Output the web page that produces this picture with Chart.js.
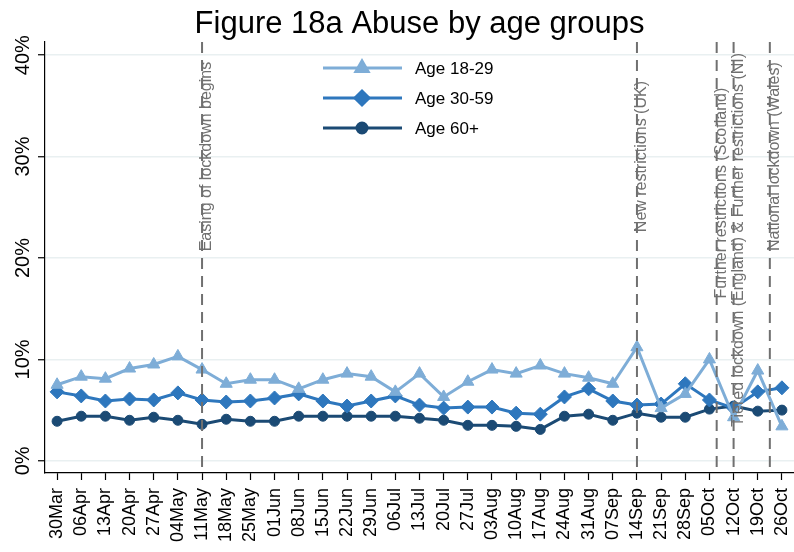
<!DOCTYPE html>
<html>
<head>
<meta charset="utf-8">
<script src="https://cdn.jsdelivr.net/npm/chart.js@4/dist/chart.umd.min.js"></script>
<style>
  body { margin: 0; background: #fff; }
  #wrap { width: 794px; height: 552px; }
</style>
</head>
<body>
<div id="wrap"><canvas id="myChart"></canvas></div>
<script>
const weeks = ['30Mar', '06Apr', '13Apr', '20Apr', '27Apr', '04May', '11May', '18May', '25May',
  '01Jun', '08Jun', '15Jun', '22Jun', '29Jun', '06Jul', '13Jul', '20Jul', '27Jul', '03Aug',
  '10Aug', '17Aug', '24Aug', '31Aug', '07Sep', '14Sep', '21Sep', '28Sep', '05Oct', '12Oct',
  '19Oct', '26Oct'];

const age18to29 = [7.5, 8.3, 8.1, 9.1, 9.5, 10.3, 9.0, 7.6, 8.0, 8.0, 7.1, 8.0, 8.6, 8.3, 6.8,
  8.6, 6.3, 7.8, 9.0, 8.6, 9.4, 8.6, 8.2, 7.6, 11.2, 5.2, 6.6, 10.0, 4.3, 8.9, 3.4];
const age30to59 = [6.8, 6.4, 5.9, 6.1, 6.0, 6.7, 6.0, 5.8, 5.9, 6.2, 6.6, 5.9, 5.4, 5.9, 6.4,
  5.5, 5.2, 5.3, 5.3, 4.7, 4.6, 6.3, 7.1, 5.9, 5.5, 5.6, 7.6, 6.0, 5.2, 6.8, 7.2];
const age60plus = [3.9, 4.4, 4.4, 4.0, 4.3, 4.0, 3.6, 4.1, 3.9, 3.9, 4.4, 4.4, 4.4, 4.4, 4.4,
  4.2, 4.0, 3.5, 3.5, 3.4, 3.1, 4.4, 4.6, 4.0, 4.7, 4.3, 4.3, 5.1, 5.4, 4.9, 5.0];

const yTicks = [0, 10, 20, 30, 40];

// week index where each event falls (fractional = between two weeks)
const eventWeeks = [6, 24, 27.3, 28, 29.5];
const eventLabels = ['Easing of lockdown begins', 'New restrictions (UK)',
  'Further restrictions (Scotland)', 'Tiered lockdown (England) & Further restrictions (NI)',
  'National lockdown (Wales)'];

const FONT = "'Liberation Sans', Arial, sans-serif";

const extras = {
  id: 'extras',
  afterDatasetsDraw (chart, args, opts) {
    const {ctx, chartArea, scales: {x, y}} = chart;
    // event lines
    eventWeeks.forEach((w, i) => {
      const px = x.getPixelForValue(w);
      ctx.save();
      ctx.strokeStyle = '#707070';
      ctx.lineWidth = 2;
      ctx.setLineDash([11, 7]);
      ctx.beginPath();
      ctx.moveTo(px, chartArea.top);
      ctx.lineTo(px, chartArea.bottom);
      ctx.stroke();
      ctx.translate(px - 3, y.getPixelForValue(opts.labelCentre[i]));
      ctx.rotate(-Math.PI / 2);
      ctx.fillStyle = '#707070';
      ctx.font = '16px ' + FONT;
      ctx.textAlign = 'center';
      ctx.textBaseline = 'top';
      ctx.fillText(eventLabels[i], 0, 0);
      ctx.restore();
    });
  },
  afterDraw (chart) {
    const {ctx, chartArea, scales: {y}} = chart;
    ctx.save();
    // title
    ctx.fillStyle = '#000';
    ctx.font = '31px ' + FONT;
    ctx.textAlign = 'center';
    ctx.textBaseline = 'alphabetic';
    ctx.fillText('Figure 18a Abuse by age groups', (chartArea.left + chartArea.right) / 2, 33);
    // rotated y tick labels
    ctx.font = '20px ' + FONT;
    ctx.textBaseline = 'middle';
    yTicks.forEach(v => {
      ctx.save();
      ctx.translate(23, y.getPixelForValue(v));
      ctx.rotate(-Math.PI / 2);
      ctx.fillText(v + '%', 0, 0);
      ctx.restore();
    });
    // legend inside plot
    chart.data.datasets.forEach((ds, i) => {
      const rowY = 68 + i * 30;
      ctx.strokeStyle = ds.borderColor;
      ctx.lineWidth = 3;
      ctx.beginPath();
      ctx.moveTo(323, rowY);
      ctx.lineTo(402, rowY);
      ctx.stroke();
      Chart.helpers.drawPoint(ctx, {pointStyle: ds.pointStyle, radius: ds.pointRadius, borderWidth: 1}, 362, rowY);
      ctx.fillStyle = ds.borderColor;
      ctx.fill();
      ctx.fillStyle = '#000';
      ctx.font = '17px ' + FONT;
      ctx.textAlign = 'left';
      ctx.textBaseline = 'middle';
      ctx.fillText(ds.label, 415, rowY + 1);
    });
    ctx.restore();
  }
};

function makeDataset (label, values, color, style, radius) {
  return {
    label: label,
    data: values,
    borderColor: color,
    backgroundColor: color,
    borderWidth: 3,
    pointStyle: style,
    pointRadius: radius,
    pointBorderWidth: 1,
    tension: 0
  };
}

new Chart(document.getElementById('myChart'), {
  type: 'line',
  data: {
    labels: weeks,
    datasets: [
      makeDataset('Age 18-29', age18to29, '#7eadd7', 'triangle', 7),
      makeDataset('Age 30-59', age30to59, '#2e77bd', 'rectRot', 7),
      makeDataset('Age 60+', age60plus, '#1b4a74', 'circle', 5)
    ]
  },
  options: {
    responsive: true,
    maintainAspectRatio: false,
    animation: false,
    layout: { autoPadding: false, padding: { top: 42, left: 0, right: 0, bottom: 0 } },
    plugins: {
      legend: { display: false },
      tooltip: { enabled: false },
      extras: { labelCentre: [30, 30, 26.4, 21.8, 30] }
    },
    scales: {
      x: {
        type: 'category',
        offset: true,
        afterFit: s => { s.height = 79; s.paddingLeft = 0; s.paddingRight = 0; },
        grid: { drawOnChartArea: false, drawTicks: true, tickLength: 7, tickColor: '#000', tickWidth: 1.2 },
        border: { color: '#000', width: 1.2 },
        ticks: {
          autoSkip: false,
          minRotation: 90,
          maxRotation: 90,
          padding: 8,
          color: '#000',
          font: { family: FONT, size: 18 }
        }
      },
      y: {
        min: -1.2,
        max: 41.3,
        afterFit: s => { s.width = 45; s.paddingTop = 0; s.paddingBottom = 0; },
        afterBuildTicks: s => { s.ticks = yTicks.map(v => ({value: v})); },
        grid: { color: '#e9f0f1', lineWidth: 1.5, drawTicks: true, tickLength: 7, tickColor: '#000', tickWidth: 1.2 },
        border: { color: '#000', width: 1.2 },
        ticks: { display: false }
      }
    }
  },
  plugins: [extras]
});
</script>
</body>
</html>
